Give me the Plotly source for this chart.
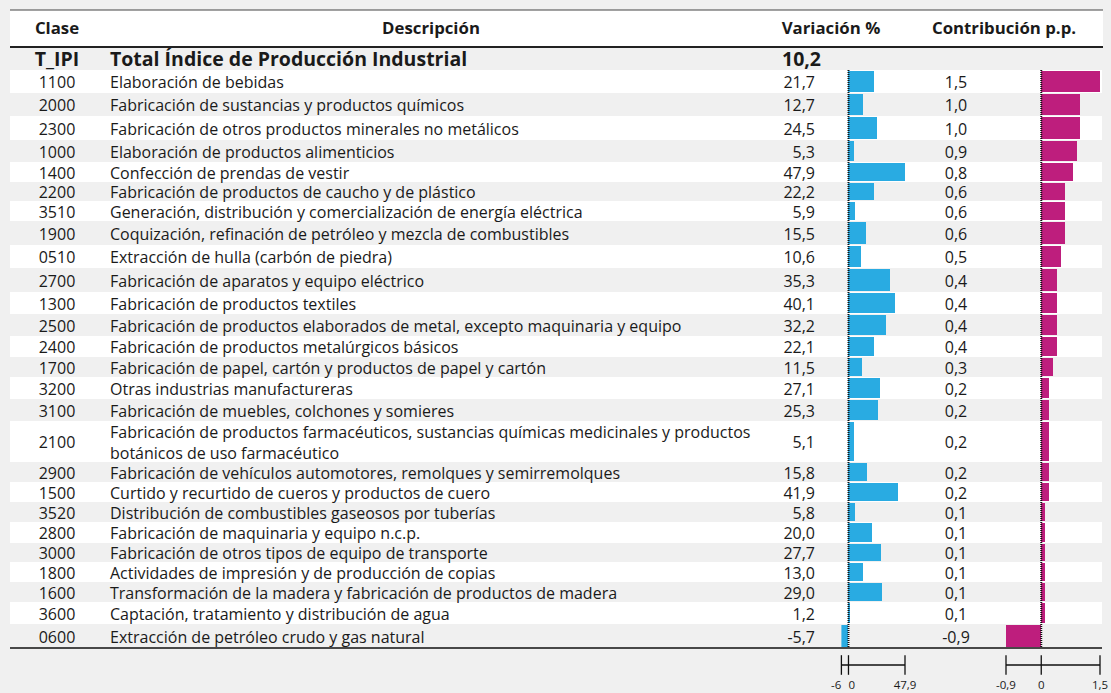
import math
import plotly.graph_objects as go

# ---------------- data ----------------
total_code = "T_IPI"
total_desc = "Total Índice de Producción Industrial"
total_var = 10.2

clase = ["1100", "2000", "2300", "1000", "1400", "2200", "3510", "1900", "0510", "2700",
         "1300", "2500", "2400", "1700", "3200", "3100", "2100", "2900", "1500", "3520",
         "2800", "3000", "1800", "1600", "3600", "0600"]
descripcion = [
    "Elaboración de bebidas",
    "Fabricación de sustancias y productos químicos",
    "Fabricación de otros productos minerales no metálicos",
    "Elaboración de productos alimenticios",
    "Confección de prendas de vestir",
    "Fabricación de productos de caucho y de plástico",
    "Generación, distribución y comercialización de energía eléctrica",
    "Coquización, refinación de petróleo y mezcla de combustibles",
    "Extracción de hulla (carbón de piedra)",
    "Fabricación de aparatos y equipo eléctrico",
    "Fabricación de productos textiles",
    "Fabricación de productos elaborados de metal, excepto maquinaria y equipo",
    "Fabricación de productos metalúrgicos básicos",
    "Fabricación de papel, cartón y productos de papel y cartón",
    "Otras industrias manufactureras",
    "Fabricación de muebles, colchones y somieres",
    "Fabricación de productos farmacéuticos, sustancias químicas medicinales y productos<br>botánicos de uso farmacéutico",
    "Fabricación de vehículos automotores, remolques y semirremolques",
    "Curtido y recurtido de cueros y productos de cuero",
    "Distribución de combustibles gaseosos por tuberías",
    "Fabricación de maquinaria y equipo n.c.p.",
    "Fabricación de otros tipos de equipo de transporte",
    "Actividades de impresión y de producción de copias",
    "Transformación de la madera y fabricación de productos de madera",
    "Captación, tratamiento y distribución de agua",
    "Extracción de petróleo crudo y gas natural",
]
variacion = [21.7, 12.7, 24.5, 5.3, 47.9, 22.2, 5.9, 15.5, 10.6, 35.3,
             40.1, 32.2, 22.1, 11.5, 27.1, 25.3, 5.1, 15.8, 41.9, 5.8,
             20.0, 27.7, 13.0, 29.0, 1.2, -5.7]
contribucion = [1.5, 1.0, 1.0, 0.9, 0.8, 0.6, 0.6, 0.6, 0.5, 0.4,
                0.4, 0.4, 0.4, 0.3, 0.2, 0.2, 0.2, 0.2, 0.2, 0.1,
                0.1, 0.1, 0.1, 0.1, 0.1, -0.9]
headers = ["Clase", "Descripción", "Variación %", "Contribución p.p."]

# ---------------- layout / style ----------------
W, H = 1111, 693
FONT = "Open Sans, Noto Sans, sans-serif"
TXT = "#1a1a1a"
BLUE = "#29abe2"
MAGENTA = "#be1e7d"
GRAY_BG = "#f0f0f0"
BODY_SIZE = 16
HEAD_SIZE = 16.8
TOTAL_SIZE = 19.5
TICK_SIZE = 11.5
TEXT_DY = 2.8

TABLE_LEFT, TABLE_RIGHT = 10, 1102
HEADER_TOP, HEADER_BOTTOM = 10, 47
TOTAL_BOTTOM = 70
row_heights = [23, 23, 24, 22, 20, 19, 20, 24, 23, 24,
               22, 22, 21, 20, 22, 22, 41, 20, 20, 20,
               21, 19, 20, 20, 22, 24]

tops = []
acc = TOTAL_BOTTOM
for h in row_heights:
    tops.append(acc)
    acc += h
TABLE_BOTTOM = acc
centers = [t + h / 2 for t, h in zip(tops, row_heights)]
text_y = [c + TEXT_DY for c in centers]

COL_CLASE = 57
COL_DESC = 110
COL_VAR_TXT = 815
COL_CON_TXT = 956
VAR_DOM = (841.4, 905)
CON_DOM = (1006, 1100)
AXIS_Y = 665
AXIS_LBL_Y = 686


def fmt(v):
    return f"{v:.1f}".replace(".", ",")


def fmt_tick(v):
    if abs(v - round(v)) < 1e-9:
        return str(int(round(v)))
    return fmt(v)


var_min = math.floor(min(variacion))
var_max = max(variacion)
con_min = min(contribucion)
con_max = max(contribucion)

fig = go.Figure()


def text_trace(x, y, text, pos, size, ax="x"):
    return go.Scatter(x=x, y=y, text=text, mode="text", textposition=pos, xaxis=ax, yaxis="y",
                      textfont=dict(family=FONT, size=size, color=TXT), hoverinfo="skip",
                      cliponaxis=False)


# ---- text columns ----
n = len(clase)
fig.add_trace(text_trace([COL_CLASE] * n, text_y, clase, "middle center", BODY_SIZE))
fig.add_trace(text_trace([COL_DESC] * n, text_y, descripcion, "middle right", BODY_SIZE))
fig.add_trace(text_trace([COL_VAR_TXT] * n, text_y, [fmt(v) for v in variacion], "middle left", BODY_SIZE))
fig.add_trace(text_trace([COL_CON_TXT] * n, text_y, [fmt(v) for v in contribucion], "middle center", BODY_SIZE))

# total row
total_y = (HEADER_BOTTOM + TOTAL_BOTTOM) / 2 + 2.5
fig.add_trace(text_trace([COL_CLASE], [total_y], [f"<b>{total_code}</b>"], "middle center", TOTAL_SIZE))
fig.add_trace(text_trace([COL_DESC], [total_y], [f"<b>{total_desc}</b>"], "middle right", TOTAL_SIZE))
fig.add_trace(text_trace([COL_VAR_TXT + 6], [total_y], [f"<b>{fmt(total_var)}</b>"], "middle left", TOTAL_SIZE))

# headers
header_x = [COL_CLASE, 431, 831, 1004]
fig.add_trace(text_trace(header_x, [(HEADER_TOP + HEADER_BOTTOM) / 2 + 1] * 4,
                         [f"<b>{h}</b>" for h in headers], "middle center", HEAD_SIZE))

# ---- bars ----
fig.add_trace(go.Bar(x=variacion, y=centers, width=[h - 2 for h in row_heights], orientation="h",
                     marker=dict(color=BLUE, line=dict(width=0)), xaxis="x2", yaxis="y",
                     hoverinfo="skip", cliponaxis=False))
fig.add_trace(go.Bar(x=contribucion, y=centers, width=[h - 2 for h in row_heights], orientation="h",
                     marker=dict(color=MAGENTA, line=dict(width=0)), xaxis="x3", yaxis="y",
                     hoverinfo="skip", cliponaxis=False))

# zero lines
for ax in ["x2", "x3"]:
    fig.add_trace(go.Scatter(x=[0, 0], y=[TOTAL_BOTTOM, TABLE_BOTTOM], mode="lines", xaxis=ax, yaxis="y",
                             line=dict(color="#111111", width=2, dash="1px,1px"), hoverinfo="skip",
                             cliponaxis=False))

# scale axes under bars
axis_specs = [
    ("x2", var_min, var_max, ["middle left", "middle right", "middle center"]),
    ("x3", con_min, con_max, ["middle center", "middle center", "middle center"]),
]
for ax, lo, hi, positions in axis_specs:
    ticks = [lo, 0, hi]
    fig.add_trace(go.Scatter(x=[lo, hi], y=[AXIS_Y, AXIS_Y], mode="lines", xaxis=ax, yaxis="y",
                             line=dict(color="#111111", width=1.3), hoverinfo="skip", cliponaxis=False))
    fig.add_trace(go.Scatter(x=ticks, y=[AXIS_Y] * 3, mode="markers", xaxis=ax, yaxis="y",
                             marker=dict(symbol="line-ns", size=14, line=dict(color="#111111", width=1.3)),
                             hoverinfo="skip", cliponaxis=False))
    fig.add_trace(text_trace(ticks, [AXIS_LBL_Y] * 3, [fmt_tick(t) for t in ticks], positions,
                             TICK_SIZE, ax))

# ---- shapes: backgrounds and rules ----
shapes = []
shapes.append(dict(type="rect", xref="x", yref="y", x0=TABLE_LEFT, x1=TABLE_RIGHT + 1,
                   y0=HEADER_TOP, y1=HEADER_BOTTOM, fillcolor="white", line=dict(width=0), layer="below"))
for i, (t, h) in enumerate(zip(tops, row_heights)):
    if i % 2 == 0:
        shapes.append(dict(type="rect", xref="x", yref="y", x0=TABLE_LEFT, x1=TABLE_RIGHT,
                           y0=t, y1=t + h, fillcolor="white", line=dict(width=0), layer="below"))
shapes.append(dict(type="line", xref="x", yref="y", x0=TABLE_LEFT, x1=TABLE_RIGHT + 1,
                   y0=HEADER_TOP, y1=HEADER_TOP, line=dict(color="#444444", width=1)))
shapes.append(dict(type="line", xref="x", yref="y", x0=TABLE_LEFT, x1=TABLE_RIGHT + 1,
                   y0=HEADER_BOTTOM, y1=HEADER_BOTTOM, line=dict(color="#222222", width=2)))
shapes.append(dict(type="line", xref="x", yref="y", x0=TABLE_LEFT, x1=TABLE_RIGHT,
                   y0=TABLE_BOTTOM, y1=TABLE_BOTTOM, line=dict(color="#111111", width=1.5)))

hidden = dict(visible=False, fixedrange=True, showgrid=False, zeroline=False)
fig.update_layout(
    width=W, height=H, margin=dict(l=0, r=0, t=0, b=0),
    paper_bgcolor=GRAY_BG, plot_bgcolor="rgba(0,0,0,0)",
    showlegend=False, barmode="overlay", bargap=0,
    shapes=shapes,
    xaxis=dict(range=[0, W], domain=[0, 1], anchor="y", **hidden),
    xaxis2=dict(range=[var_min, var_max], domain=[VAR_DOM[0] / W, VAR_DOM[1] / W],
                anchor="y", **hidden),
    xaxis3=dict(range=[con_min, con_max], domain=[CON_DOM[0] / W, CON_DOM[1] / W],
                anchor="y", **hidden),
    yaxis=dict(range=[H, 0], domain=[0, 1], anchor="x", **hidden),
)

fig.write_html("out.html", config=dict(displayModeBar=False),
               post_script="document.body.style.margin='0';document.body.style.background='#f0f0f0';")
